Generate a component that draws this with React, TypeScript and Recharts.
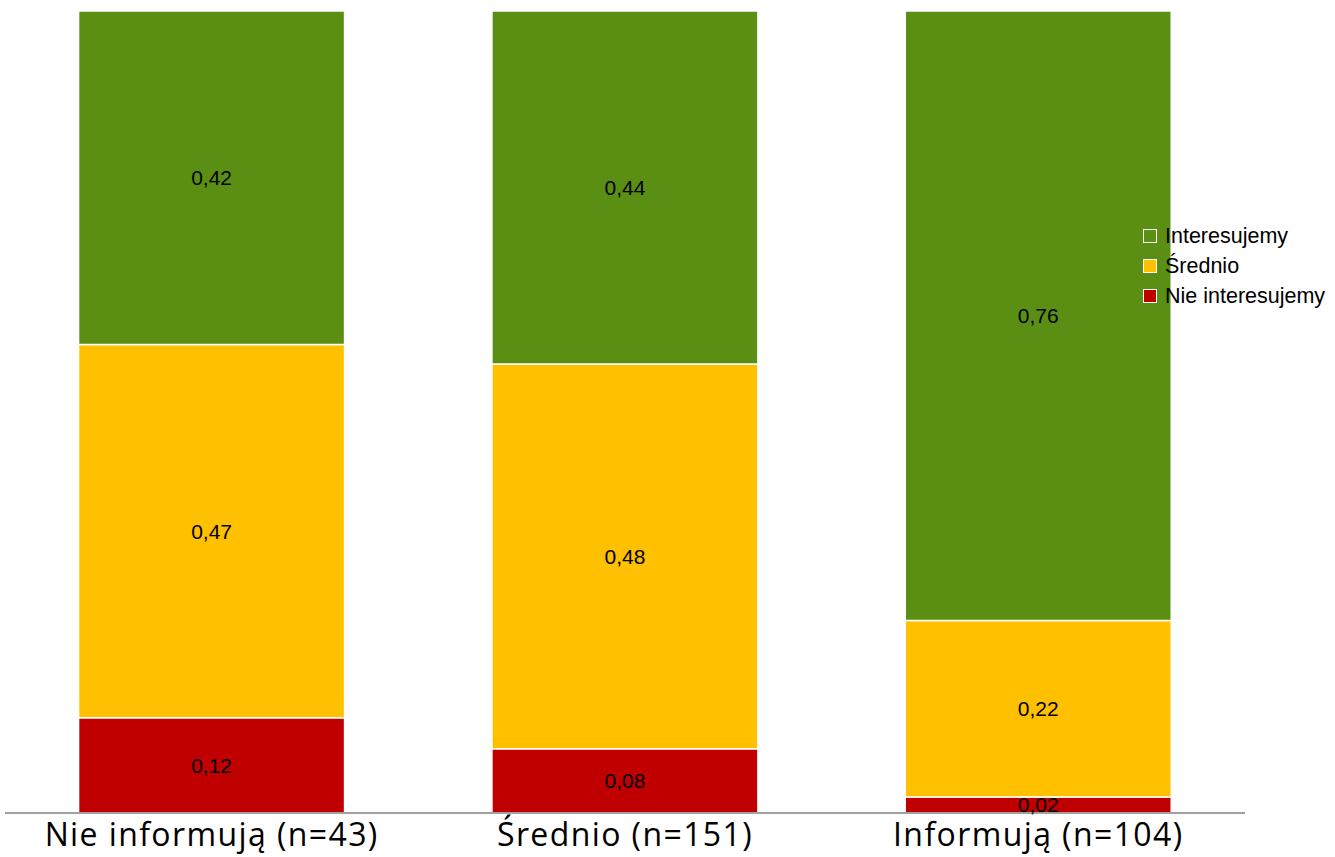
import React from "react";
import { BarChart, Bar, XAxis, YAxis, LabelList } from "recharts";

const categories = ["Nie informują (n=43)", "Średnio (n=151)", "Informują (n=104)"];
const nieInteresujemy = [0.12, 0.08, 0.02];
const srednio = [0.47, 0.48, 0.22];
const interesujemy = [0.42, 0.44, 0.76];

const series = [
  { key: "nie", name: "Nie interesujemy", color: "#C00000", values: nieInteresujemy },
  { key: "sre", name: "Średnio", color: "#FFC000", values: srednio },
  { key: "int", name: "Interesujemy", color: "#5A8F14", values: interesujemy },
];

const data = categories.map((name, i) => {
  const row: any = { name };
  series.forEach((s) => (row[s.key] = s.values[i]));
  return row;
});

const fmt = (v: any) => String(v).replace(".", ",");

const Legend = () => (
  <div
    style={{
      position: "absolute",
      left: 1143,
      top: 221,
      fontFamily: "'Liberation Sans', Arial, sans-serif",
      fontSize: 21.5,
      color: "#000",
    }}
  >
    {[...series].reverse().map((s) => (
      <div key={s.key} style={{ display: "flex", alignItems: "center", height: 30, whiteSpace: "nowrap" }}>
        <span
          style={{
            display: "inline-block",
            width: 12,
            height: 12,
            background: s.color,
            border: "1px solid #fff",
            marginRight: 8,
          }}
        />
        <span>{s.name}</span>
      </div>
    ))}
  </div>
);

export default function App() {
  return (
    <div style={{ position: "absolute", left: 0, top: 0, width: 1335, height: 857, background: "#fff" }}>
      <BarChart
        width={1335}
        height={857}
        data={data}
        stackOffset="expand"
        barCategoryGap="17.8%"
        margin={{ top: 11, right: 90, left: 5, bottom: 0 }}
      >
        <XAxis
          dataKey="name"
          height={44}
          axisLine={{ stroke: "#A0A0A0", strokeWidth: 2 }}
          tickLine={false}
          tick={{ fontSize: 32, fill: "#000", fontFamily: "'Open Sans', sans-serif", letterSpacing: 1.4 }}
          tickMargin={4}
        />
        <YAxis hide domain={[0, 1]} />
        {series.map((s) => (
          <Bar
            key={s.key}
            dataKey={s.key}
            name={s.name}
            stackId="a"
            fill={s.color}
            stroke="#fff"
            strokeWidth={1.5}
            isAnimationActive={false}
          >
            <LabelList
              dataKey={s.key}
              position="center"
              formatter={fmt}
              style={{ fontSize: 21, fill: "#000", fontFamily: "'Liberation Sans', Arial, sans-serif" }}
            />
          </Bar>
        ))}
      </BarChart>
      <Legend />
    </div>
  );
}
